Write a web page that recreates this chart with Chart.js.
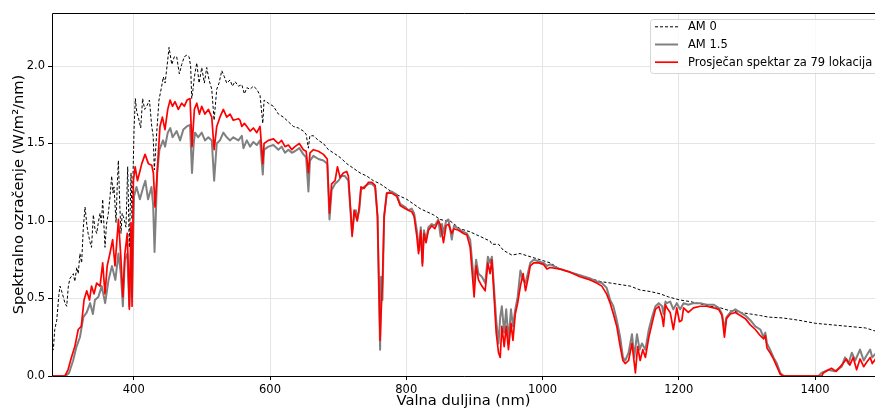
<!DOCTYPE html>
<html>
<head>
<meta charset="utf-8">
<script src="https://cdn.jsdelivr.net/npm/chart.js@4.4.1/dist/chart.umd.min.js"></script>
<style>
  html, body { margin: 0; padding: 0; background: #fff; overflow: hidden; }
  #wrap { width: 875px; height: 410px; }
</style>
</head>
<body>
<div id="wrap"><canvas id="c" width="875" height="410"></canvas></div>
<script>
// Spectral irradiance, W/m²/nm, against wavelength in nm.

// Extraterrestrial spectrum (AM 0)
const am0Wl = [280,282,284,287,290,291.7,294,296.6,299,301.6,304,306.4,311.3,313.5,316.3,318.5,321,323.5,326,328.5,331,333,336,338,340.7,343,345.6,348,350.5,352.5,354.4,357.8,360,362.7,365,367.6,369.5,371,374,375.5,377.4,379.5,381.3,383,384.7,386.5,388.6,391.1,393.5,396,397.5,400.4,402.3,404.5,406.7,410.2,413,416,419,423,426.4,428.5,430.2,432,433.7,437,441,443.4,446,449.9,451.8,455.8,459.6,463,466.9,470.4,474.2,477.8,481.2,483.5,485.1,487,489,492.5,495.9,499.8,503.6,507.1,510.5,514.5,517.9,521.8,525.2,529.2,533,536.5,541.4,544.8,548.7,553.6,558.6,562.4,566,570.7,575.6,580.6,585.4,589.4,591.3,597.6,605,612.3,619.7,627,634.3,641.7,649,653,656.3,658.5,663.7,671,678.4,685.7,693,702.9,712.7,722.4,732.2,742,751.8,761.6,771.4,781.2,791,800.7,810.5,820.3,830,839.9,849.7,859.5,864.4,879,893.8,903.6,913.4,923.2,925.6,935.4,942.7,955,967,981.8,996.5,1011,1025.7,1040.4,1055,1069.9,1084.6,1099.3,1114,1128.6,1143.3,1158,1172.7,1185,1202,1216.8,1231.5,1246,1261,1275.6,1290.3,1305,1319.7,1331.4,1351.5,1376,1400.4,1425,1449.4,1474,1488.5,1500];
const am0Val = [0.16,0.17,0.30,0.36,0.52,0.58,0.55,0.51,0.47,0.45,0.58,0.63,0.66,0.61,0.70,0.66,0.79,0.73,0.96,1.09,0.98,0.92,0.86,0.83,1.04,0.95,0.92,0.99,1.05,0.98,1.14,0.83,0.98,1.05,1.15,1.29,1.18,1.22,0.99,1.20,1.39,1.10,0.92,1.05,1.03,1.00,0.96,1.35,0.83,1.31,1.01,1.59,1.79,1.70,1.67,1.60,1.79,1.72,1.74,1.78,1.61,1.55,1.33,1.45,1.57,1.78,1.87,1.93,1.89,2.04,2.12,2.01,2.06,2.06,1.95,2.01,2.06,2.07,2.06,2.00,1.79,1.85,1.93,2.02,1.89,1.99,1.89,1.99,1.91,1.85,1.65,1.85,1.89,1.97,1.93,1.89,1.91,1.87,1.90,1.87,1.88,1.82,1.86,1.85,1.87,1.85,1.81,1.63,1.78,1.76,1.74,1.69,1.67,1.64,1.61,1.60,1.58,1.56,1.47,1.55,1.55,1.52,1.50,1.46,1.44,1.41,1.37,1.34,1.31,1.29,1.26,1.24,1.21,1.18,1.16,1.14,1.11,1.08,1.06,1.04,1.01,1.00,1.00,0.95,0.93,0.91,0.89,0.87,0.85,0.85,0.81,0.78,0.79,0.77,0.75,0.73,0.69,0.67,0.65,0.63,0.61,0.60,0.59,0.58,0.555,0.545,0.53,0.51,0.49,0.48,0.465,0.45,0.44,0.42,0.41,0.40,0.39,0.38,0.375,0.36,0.34,0.33,0.32,0.31,0.29,0.28];

// Standard terrestrial spectrum (AM 1.5)
const am15Wl = [280,300,305,308,311,316,321,326,331,336,340,343,348,353,358,363,368,373,377.5,381,384,387,390.5,393.5,396,397.5,400.4,404,409,414,417,421,426,428.5,430.5,432.5,434.4,437.7,443,446,449.9,453.6,457,463,468,472.8,477.8,482.6,485.5,488,490,494.4,499.8,504.5,509.5,514.5,518,521.8,526.5,531.5,536.5,541.4,546.1,553.6,558.6,561,566,570.7,575.6,580.6,585.4,589.4,591.3,597.6,605,612.3,617,622,627,632,636.5,643,649,653,656.4,658.7,663.7,671,678.4,684,687.3,690.5,695.5,700.4,705,710,715,718.6,720.5,723.5,726,728,731,733.5,738,744.6,749.5,754.3,757.8,760.2,761.6,763,765,767.5,771.4,778.7,786,791,798.3,803,808,811.5,815.5,819,821.3,823.7,826,829,832.5,837.4,842,847,850.4,852.5,854.6,858.5,862,866.8,870,876.7,884,889,893.8,897.2,899.6,902.5,906,911,915.8,919.8,923,925.6,928,932,935.4,937.9,940.3,943.7,946.7,950,953.7,956.6,960,963.5,967.5,971.5,975,978.3,982,987,994,1001.5,1006.5,1011,1025.7,1040.4,1055,1069.9,1079.5,1087,1094,1099.3,1104,1109,1114,1118,1121.4,1126.3,1131.3,1134.7,1138.6,1142.5,1146,1151,1156,1160.8,1165.7,1170.6,1175.5,1177.6,1180.4,1182.5,1187.4,1192,1197,1202,1207,1214,1221.6,1231.5,1241,1251,1258.6,1263.5,1267,1270,1275.6,1283,1290.3,1297.7,1305,1312.3,1319.7,1324.6,1327,1329.5,1334,1339,1344,1349,1354,1405,1409.5,1419,1429,1439,1444,1449,1454,1459,1466,1471.4,1476,1481,1484,1492,1500];
const am15Val = [0,0,0.02,0.06,0.10,0.19,0.25,0.38,0.41,0.47,0.40,0.49,0.51,0.58,0.47,0.62,0.71,0.62,0.79,0.66,0.45,0.75,0.79,0.45,0.77,0.51,1.16,1.22,1.14,1.22,1.26,1.14,1.22,1.10,0.80,1.05,1.31,1.46,1.52,1.48,1.57,1.60,1.54,1.58,1.52,1.59,1.61,1.62,1.31,1.50,1.57,1.54,1.57,1.52,1.54,1.52,1.26,1.50,1.52,1.57,1.54,1.52,1.54,1.52,1.55,1.47,1.52,1.48,1.51,1.49,1.52,1.30,1.46,1.48,1.49,1.46,1.48,1.44,1.46,1.44,1.45,1.47,1.43,1.41,1.19,1.39,1.42,1.40,1.39,1.37,1.01,1.20,1.24,1.26,1.29,1.29,1.26,1.03,0.92,1.03,1.07,1.01,1.07,1.20,1.22,1.24,1.24,1.22,1.03,0.47,0.17,0.64,0.49,1.03,1.18,1.19,1.17,1.11,1.09,1.07,1.08,1.05,0.94,0.81,0.96,0.73,0.94,0.88,0.96,0.98,0.97,1.01,0.90,0.98,0.92,1.00,1.01,0.88,0.97,0.95,0.93,0.92,0.88,0.71,0.60,0.75,0.66,0.64,0.60,0.77,0.73,0.77,0.62,0.36,0.21,0.38,0.45,0.28,0.43,0.23,0.43,0.32,0.43,0.51,0.68,0.62,0.60,0.66,0.73,0.75,0.74,0.73,0.71,0.72,0.69,0.67,0.65,0.63,0.61,0.60,0.57,0.49,0.45,0.36,0.25,0.12,0.10,0.15,0.27,0.12,0.27,0.17,0.21,0.17,0.30,0.38,0.45,0.47,0.45,0.40,0.48,0.47,0.48,0.43,0.47,0.43,0.47,0.46,0.47,0.47,0.46,0.46,0.44,0.40,0.30,0.38,0.41,0.43,0.41,0.39,0.36,0.32,0.30,0.25,0.28,0.21,0.17,0.12,0.08,0.02,0,0,0.02,0.04,0.03,0.06,0.12,0.08,0.15,0.10,0.17,0.10,0.135,0.17,0.12,0.16,0.14];

// Mean spectrum over 79 sites
const avgWl = [280,299,303.5,308.5,313.5,318.5,323,327,331,335,338,341.7,345.6,350.5,354.4,357.8,361,365,369,372.5,377.5,381,384,387,390.5,393.5,396,397.5,399.5,402,405.4,408.4,411.8,416.6,421.5,426.4,428.8,431.2,433.7,436.1,438.5,442,445.8,449.9,453.3,456.8,460.5,465.4,470.4,474.2,478.2,482.6,485.5,489,492.5,496.4,499.8,504.5,509.5,514.5,518,521.8,526.5,531.5,536.5,541.4,546.1,553.6,556,558.6,562.4,566,570.7,575.6,580.6,585.4,589.4,591.3,597.6,605,612.3,617,622,627,632,636.5,643,649,653,656.4,658.7,663.7,671,678.4,684,687.3,690.5,695.5,699,702.9,707.6,712.5,715,718.6,720.5,723.5,726,728,731,733.5,738,744.6,749.5,754.3,757.8,760.2,761.6,763,765,767.5,771.4,778.7,786,791,798.3,803,808,811.5,815.5,818,821.3,823.7,826,829,832.5,837.4,842,847,849.7,852,854.6,858.5,862,866.8,870,876.7,884,889,893.8,897.2,899.6,902.5,906,911,915.8,919.8,923,925.6,928,932,935.4,937.9,940.3,943.7,946.7,950,953.7,956.6,960,963.5,967.5,971.5,975,978.3,982,987,994,1001.5,1006.5,1011,1025.7,1040.4,1055,1069.9,1079.5,1087,1094,1099.3,1104,1109,1114,1118,1121.4,1126.3,1131.3,1136.3,1139.6,1143.3,1147.2,1151,1156,1160.8,1165.7,1170.6,1175.5,1177.6,1180.4,1182.5,1187.4,1192,1197,1201,1204.5,1207,1214,1221.6,1231.5,1241,1251,1258.6,1263.5,1267,1270,1275.6,1283,1290.3,1297.7,1305,1312.3,1319.7,1324.6,1327,1329.5,1334,1339,1344,1349,1354,1410,1412,1424,1431,1441,1446,1451,1456,1461,1466,1471.4,1476,1481,1484,1492,1500];
const avgVal = [0,0,0.04,0.12,0.19,0.30,0.32,0.49,0.55,0.49,0.58,0.53,0.60,0.58,0.73,0.53,0.71,0.79,0.88,0.71,1.01,0.77,0.51,0.79,0.92,0.43,0.99,0.45,1.26,1.35,1.26,1.31,1.37,1.43,1.37,1.36,1.31,1.09,1.26,1.44,1.61,1.67,1.59,1.72,1.78,1.74,1.77,1.72,1.76,1.74,1.78,1.79,1.48,1.72,1.76,1.69,1.74,1.69,1.72,1.67,1.46,1.61,1.67,1.72,1.67,1.69,1.65,1.66,1.65,1.61,1.63,1.61,1.58,1.60,1.57,1.61,1.37,1.50,1.52,1.53,1.50,1.52,1.48,1.49,1.46,1.48,1.50,1.46,1.45,1.31,1.44,1.46,1.45,1.43,1.40,1.05,1.24,1.26,1.35,1.28,1.31,1.32,1.29,1.05,0.90,1.07,1.03,1.00,1.09,1.22,1.21,1.25,1.25,1.23,1.03,0.53,0.23,0.40,0.60,1.03,1.18,1.18,1.16,1.10,1.08,1.07,1.06,1.03,0.90,0.79,0.94,0.71,0.92,0.86,0.94,0.97,0.95,1.00,0.98,0.93,0.86,0.97,0.98,0.92,0.95,0.94,0.92,0.91,0.83,0.64,0.51,0.71,0.62,0.58,0.55,0.73,0.66,0.75,0.58,0.28,0.15,0.12,0.32,0.19,0.32,0.17,0.34,0.23,0.40,0.47,0.58,0.66,0.55,0.62,0.71,0.73,0.73,0.72,0.69,0.70,0.69,0.67,0.64,0.62,0.60,0.58,0.53,0.47,0.40,0.32,0.19,0.10,0.08,0.10,0.21,0.02,0.19,0.10,0.17,0.12,0.25,0.34,0.43,0.45,0.38,0.32,0.46,0.44,0.41,0.30,0.44,0.35,0.36,0.44,0.41,0.44,0.45,0.45,0.44,0.43,0.39,0.25,0.37,0.40,0.41,0.39,0.37,0.33,0.30,0.26,0.24,0.26,0.18,0.15,0.11,0.06,0.01,0,0,0.02,0.05,0.03,0.08,0.11,0.07,0.12,0.04,0.11,0.06,0.09,0.12,0.08,0.13,0.10];

const xTicks = [400, 600, 800, 1000, 1200, 1400];
const yTicks = [0, 0.5, 1.0, 1.5, 2.0];
const seriesLabels = ['AM 0', 'AM 1.5', 'Prosječan spektar za 79 lokacija'];

const toPoints = (xs, ys) => xs.map((x, i) => ({ x: x, y: ys[i] }));

const FONT = 'DejaVu Sans, Verdana, sans-serif';

// Axes frame (left, bottom, top) drawn over the curves
const framePlugin = {
  id: 'frame',
  afterDatasetsDraw(chart) {
    const { ctx, chartArea: a } = chart;
    ctx.save();
    ctx.strokeStyle = '#000';
    ctx.lineWidth = 1;
    ctx.beginPath();
    ctx.moveTo(a.right + 2, Math.round(a.top) + 0.5);
    ctx.lineTo(Math.round(a.left) + 0.5, Math.round(a.top) + 0.5);
    ctx.lineTo(Math.round(a.left) + 0.5, Math.round(a.bottom) + 0.5);
    ctx.lineTo(a.right + 2, Math.round(a.bottom) + 0.5);
    ctx.stroke();
    ctx.restore();
  }
};

// Legend box in the upper right corner of the plot
const boxLegend = {
  id: 'boxLegend',
  afterDraw(chart) {
    const { ctx } = chart;
    const x0 = 650.5, y0 = 19.5, w = 240, h = 54, r = 3;
    ctx.save();
    ctx.beginPath();
    ctx.moveTo(x0 + r, y0);
    ctx.lineTo(x0 + w - r, y0);
    ctx.arcTo(x0 + w, y0, x0 + w, y0 + r, r);
    ctx.lineTo(x0 + w, y0 + h - r);
    ctx.arcTo(x0 + w, y0 + h, x0 + w - r, y0 + h, r);
    ctx.lineTo(x0 + r, y0 + h);
    ctx.arcTo(x0, y0 + h, x0, y0 + h - r, r);
    ctx.lineTo(x0, y0 + r);
    ctx.arcTo(x0, y0, x0 + r, y0, r);
    ctx.closePath();
    ctx.fillStyle = 'rgba(255,255,255,0.8)';
    ctx.fill();
    ctx.strokeStyle = '#d6d6d6';
    ctx.lineWidth = 1;
    ctx.stroke();

    const rows = [26.8, 44.5, 62.2];
    chart.data.datasets.forEach((ds, i) => {
      const y = rows[i];
      ctx.beginPath();
      ctx.strokeStyle = ds.borderColor;
      ctx.lineWidth = ds.borderWidth;
      ctx.setLineDash(ds.borderDash || []);
      ctx.moveTo(655, y);
      ctx.lineTo(678, y);
      ctx.stroke();
      ctx.setLineDash([]);
      ctx.fillStyle = '#000';
      ctx.font = '11.5px ' + FONT;
      ctx.textBaseline = 'middle';
      ctx.textAlign = 'left';
      ctx.fillText(ds.label, 688, y + 0.5);
    });
    ctx.restore();
  }
};

new Chart(document.getElementById('c'), {
  type: 'line',
  data: {
    datasets: [
      { label: seriesLabels[0], data: toPoints(am0Wl, am0Val), borderColor: '#000000', borderWidth: 1, borderDash: [3, 2], order: 2 },
      { label: seriesLabels[1], data: toPoints(am15Wl, am15Val), borderColor: '#808080', borderWidth: 2, order: 1 },
      { label: seriesLabels[2], data: toPoints(avgWl, avgVal), borderColor: '#ff0000', borderWidth: 1.7, order: 0 }
    ]
  },
  options: {
    responsive: false,
    animation: false,
    events: [],
    layout: { padding: { top: 13, right: 0, left: 0, bottom: 0 } },
    elements: { point: { radius: 0 }, line: { tension: 0, fill: false, borderJoinStyle: 'round' } },
    plugins: { legend: { display: false }, tooltip: { enabled: false } },
    scales: {
      x: {
        type: 'linear',
        min: 280,
        max: 1488,
        afterBuildTicks: s => { s.ticks = xTicks.map(v => ({ value: v })); },
        afterFit: s => { s.height = 34; },
        grid: { color: '#e5e5e5', lineWidth: 1, tickLength: 4, tickColor: '#000', drawOnChartArea: true },
        border: { display: false },
        ticks: { color: '#000', font: { family: FONT, size: 11.5 }, padding: 3, maxRotation: 0, callback: v => String(v) },
        title: { display: true, text: 'Valna duljina (nm)', color: '#000', font: { family: FONT, size: 14.7 }, padding: { top: 0, bottom: 0 } }
      },
      y: {
        min: 0,
        max: 2.342,
        afterBuildTicks: s => { s.ticks = yTicks.map(v => ({ value: v })); },
        afterFit: s => { s.width = 52; },
        grid: { color: '#e5e5e5', lineWidth: 1, tickLength: 4, tickColor: '#000' },
        border: { display: false },
        ticks: { color: '#000', font: { family: FONT, size: 11.5 }, padding: 3, callback: v => v.toFixed(1) },
        title: { display: true, text: 'Spektralno ozračenje (W/m²/nm)', color: '#000', font: { family: FONT, size: 14.7 }, padding: { top: 10, bottom: 0 } }
      }
    }
  },
  plugins: [framePlugin, boxLegend]
});
</script>
</body>
</html>
